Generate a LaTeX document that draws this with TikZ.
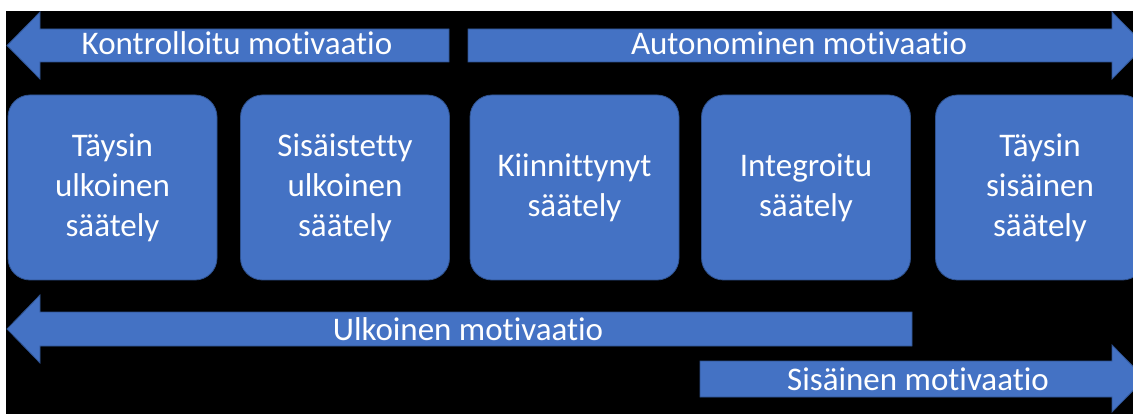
\documentclass[tikz,border=0pt]{standalone}
\usepackage{fontspec}
\setmainfont{Carlito}[Ligatures=NoCommon]
\definecolor{officeblue}{RGB}{68,114,196}
\definecolor{officeline}{RGB}{47,82,143}
\begin{document}
\begin{tikzpicture}[x=1pt, y=-1pt, font=\fontsize{33}{40}\selectfont,
	arrowshape/.style={fill=officeblue, draw=officeline, line width=0.8pt},
	box/.style={arrowshape, rounded corners=22pt, minimum width=209pt, minimum height=185pt, align=center, text=white, inner sep=0pt},
	lbl/.style={text=white, anchor=base, inner sep=0pt}]
	\useasboundingbox (0,0) rectangle (1133,414);
	\clip (0,0) rectangle (1133,414);
	\fill[black] (6,11) rectangle (1133,414);
	% upper arrows
	\draw[arrowshape] (7,45.5) -- (40,12) -- (40,29) -- (449,29) -- (449,62) -- (40,62) -- (40,79) -- cycle;
	\draw[arrowshape] (468,29) -- (1112,29) -- (1112,12) -- (1145,45.5) -- (1112,79) -- (1112,62) -- (468,62) -- cycle;
	\node[lbl] (kontr) at (237,55) {Kontrolloitu motivaatio};
	\node[lbl] (auton) at (799,55) {Autonominen motivaatio};
	% boxes
	\foreach \n/\cx/\txt in {1/112.5/{Täysin\\ulkoinen\\säätely}, 2/345/{Sisäistetty\\ulkoinen\\säätely}, 3/574.5/{Kiinnittynyt\\säätely}, 4/806/{Integroitu\\säätely}, 5/1040/{Täysin\\sisäinen\\säätely}}
		\node[box] (b\n) at (\cx,187.5) {\txt};
	% lower arrows
	\draw[arrowshape] (7,329) -- (40,295) -- (40,312) -- (912,312) -- (912,346) -- (40,346) -- (40,363) -- cycle;
	\draw[arrowshape] (700,361) -- (1112,361) -- (1112,345) -- (1145,378.5) -- (1112,412) -- (1112,397) -- (700,397) -- cycle;
	\node[lbl] (ulk) at (468,340) {Ulkoinen motivaatio};
	\node[lbl] (sis) at (918,390) {Sisäinen motivaatio};
\end{tikzpicture}
\end{document}
